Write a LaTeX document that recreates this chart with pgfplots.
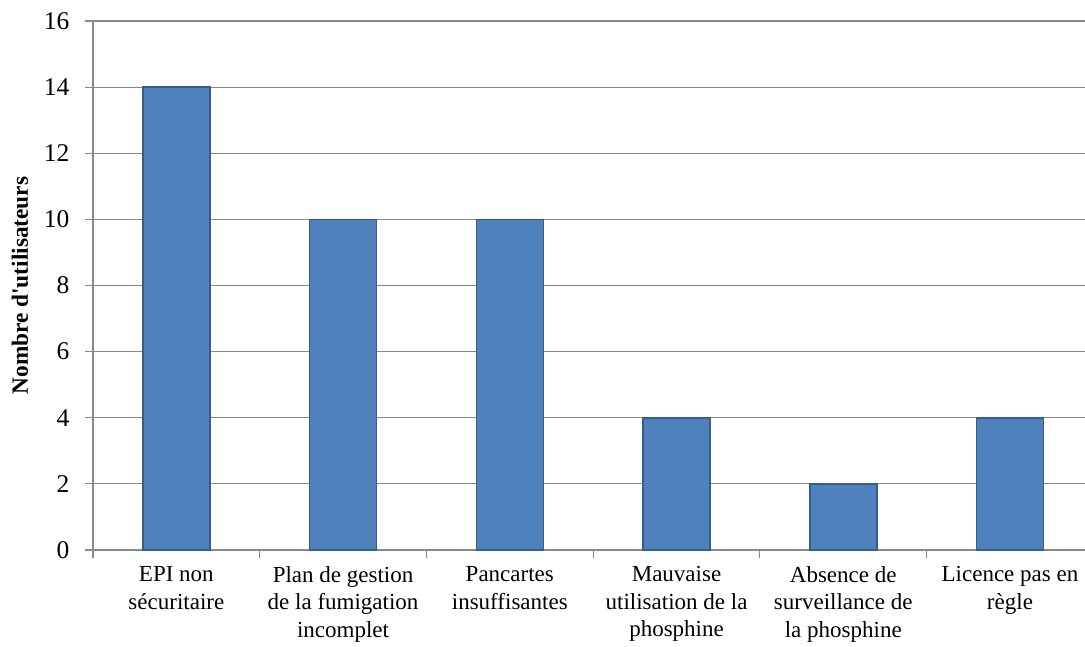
\documentclass[border=0pt]{standalone}
\usepackage{fontspec}
\setmainfont{Liberation Serif}
\usepackage{pgfplots}
\pgfplotsset{compat=1.18}

\definecolor{barfill}{HTML}{4F81BD}
\definecolor{barline}{HTML}{385D8A}
\definecolor{gridgray}{HTML}{898989}

\begin{document}
\begin{tikzpicture}
% fixed frame of the figure
\path[use as bounding box] (-93pt,-96pt) rectangle (992pt,550pt);
\begin{axis}[
  at={(0pt,0pt)}, anchor=south west,
  scale only axis,
  width=992pt, height=529pt,
  xmin=-0.5, xmax=5.45,
  ymin=0, ymax=16,
  ytick={0,2,...,16},
  xtick={0,...,5},
  xticklabels={
    EPI non\\sécuritaire,
    Plan de gestion\\de la fumigation\\incomplet,
    Pancartes\\insuffisantes,
    Mauvaise\\utilisation de la\\phosphine,
    Absence de\\surveillance de\\la phosphine,
    Licence pas en\\règle},
  minor xtick={-0.5,0.5,...,4.5},
  major x tick style={draw=none},
  minor tick length=8pt,
  major tick length=8pt,
  tick align=outside,
  axis x line*=bottom,
  axis y line*=left,
  axis line style={gridgray, line width=1.2pt, -},
  every tick/.style={gridgray, line width=1.2pt},
  ymajorgrids,
  grid style={gridgray, line width=1.2pt},
  /pgf/number format/assume math mode=true,
  xticklabel style={font=\fontsize{23}{27.5}\selectfont, align=center, yshift=-5pt},
  yticklabel style={font=\fontsize{25.5}{30}\selectfont, xshift=-12pt},
  ylabel={\textbf{Nombre d\textquotesingle utilisateurs}},
  ylabel style={font=\fontsize{23.3}{28}\selectfont, yshift=9pt},
  clip=false,
]
\addplot[ybar, bar width=67pt, fill=barfill, draw=barline, line width=1.5pt]
  coordinates {(0,14) (1,10) (2,10) (3,4) (4,2) (5,4)};
\end{axis}
\end{tikzpicture}
\end{document}
